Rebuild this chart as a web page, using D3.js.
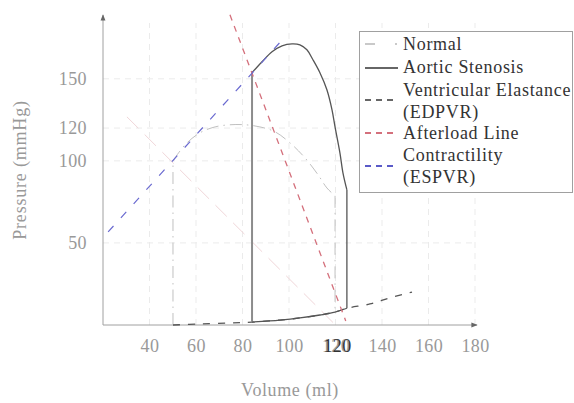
<!DOCTYPE html>
<html>
<head>
<meta charset="utf-8">
<script src="https://cdn.jsdelivr.net/npm/d3@7"></script>
<style>
  html, body { margin: 0; padding: 0; background: #fff; }
  svg { display: block; }
  text { font-family: "Liberation Serif", "DejaVu Serif", serif; }
</style>
</head>
<body>
<svg id="chart" width="574" height="403"></svg>
<script>
// ---------- data ----------
const xTicks = [40, 60, 80, 100, 120, 140, 160, 180];
const yTicks = [50, 100, 120, 150];

// Normal loop (volume ml, pressure mmHg)
const normalTop = [[50.1,100],[55.3,109.8],[61.7,117.1],[68.2,120.7],[74.6,122],[81.1,122],
  [87.5,120.7],[94.0,117.7],[100.4,111],[106.9,101.8],[112.5,91.5],[116.3,83.5],[119.8,78.7]];
const normalLeft = [[50.1,0],[50.1,100]];
const normalRight = [[119.8,78.7],[119.8,7.9]];

// Aortic stenosis loop
const asEjection = [[84.1,153.7],[88.4,160.4],[92.7,166.5],[97.0,170.1],[101.3,171.3],[104.7,170.7],
  [107.7,167.7],[110.3,161.6],[113.3,153.7],[116.3,143.3],[118.5,131.1],[119.8,120.7],
  [121.9,104.9],[123.2,92.7],[124.9,82.3]];
const asLeft = [[84.1,1.8],[84.1,153.7]];
const asRight = [[124.9,82.3],[124.9,10.2]];
const asFilling = [[84.1,1.8],[96.1,3.0],[104.7,4.3],[113.3,6.1],[119.8,7.9],[124.9,10.2]];

// End-diastolic pressure-volume relation
const edpvr = [[50.1,0],[61.7,0.6],[74.6,1.2],[84.1,1.8],[96.1,3.0],[104.7,4.3],[113.3,6.1],
  [119.8,7.9],[124.9,10.2],[134.8,12.8],[143.4,16.5],[152.9,20.1]];

// Afterload lines
const afterload = [[74.6,189],[124.4,2.5]];
const afterloadNormal = [[30.3,126.8],[120,0]];

// ESPVR
const espvr = [[22.2,56.7],[97.6,174.5]];

const legendLabels = [["Normal"],["Aortic Stenosis"],["Ventricular Elastance","(EDPVR)"],
  ["Afterload Line"],["Contractility","(ESPVR)"]];

// ---------- drawing ----------
const svg = d3.select("#chart");
const x = d3.scaleLinear().domain([20, 180]).range([103, 475]);
const y = d3.scaleLinear().domain([0, 184]).range([325, 23]);

// grid
const grid = svg.append("g").attr("stroke", "#ebebeb").attr("stroke-width", 1)
  .attr("stroke-dasharray", "6 5").attr("fill", "none");
xTicks.forEach(t => grid.append("line").attr("x1", x(t)).attr("x2", x(t)).attr("y1", y(0)).attr("y2", y(184)));
yTicks.forEach(t => grid.append("line").attr("x1", x(20)).attr("x2", x(180)).attr("y1", y(t)).attr("y2", y(t)));

// axes (lines + arrows)
const axisColor = "#a0a0a0";
svg.append("defs").append("marker").attr("id", "arr").attr("viewBox", "0 0 10 10")
  .attr("refX", 8).attr("refY", 5).attr("markerWidth", 7).attr("markerHeight", 7)
  .attr("orient", "auto").append("path").attr("d", "M0,1.5 L9,5 L0,8.5 z").attr("fill", "#666");

const xAxis = d3.axisBottom(x).tickValues(xTicks).tickSize(0).tickPadding(14).tickFormat(d3.format("d"));
const gx = svg.append("g").attr("transform", `translate(0,${y(0)})`).call(xAxis);
gx.select(".domain").remove();
gx.selectAll("text").attr("font-size", 18).attr("letter-spacing", 0.4).attr("fill", "#999").attr("font-family", "Liberation Serif");
// darker overlapping 120 label as in the reference
gx.append("text").attr("x", x(120) + 2).attr("y", 14 + 13).attr("text-anchor", "middle")
  .attr("font-size", 18).attr("letter-spacing", 0.4).attr("fill", "#333").attr("font-family", "Liberation Serif").text("120");

const yAxis = d3.axisLeft(y).tickValues(yTicks).tickSize(0).tickPadding(16).tickFormat(d3.format("d"));
const gy = svg.append("g").attr("transform", `translate(${x(20)},0)`).call(yAxis);
gy.select(".domain").remove();
gy.selectAll("text").attr("font-size", 18).attr("letter-spacing", 0.4).attr("fill", "#999").attr("font-family", "Liberation Serif");

svg.append("line").attr("x1", x(20)).attr("x2", x(20)).attr("y1", y(0)).attr("y2", 15)
  .attr("stroke", axisColor).attr("stroke-width", 1).attr("marker-end", "url(#arr)");
svg.append("line").attr("x1", x(20)).attr("x2", 477).attr("y1", y(0)).attr("y2", y(0))
  .attr("stroke", axisColor).attr("stroke-width", 1).attr("marker-end", "url(#arr)");

// axis titles
svg.append("text").attr("x", 290).attr("y", 396).attr("text-anchor", "middle")
  .attr("font-size", 18).attr("letter-spacing", 0.6).attr("fill", "#999").text("Volume (ml)");
svg.append("text").attr("transform", "translate(26,170) rotate(-90)").attr("text-anchor", "middle")
  .attr("font-size", 18).attr("letter-spacing", 0.8).attr("fill", "#999").text("Pressure (mmHg)");

const line = d3.line().x(d => x(d[0])).y(d => y(d[1]));
const curve = d3.line().x(d => x(d[0])).y(d => y(d[1])).curve(d3.curveCatmullRom.alpha(0.5));

// faint normal afterload line
svg.append("path").attr("d", line(afterloadNormal)).attr("fill", "none")
  .attr("stroke", "#f0d6d9").attr("stroke-width", 1).attr("stroke-dasharray", "16 9");

// normal loop
const normalStyle = s => s.attr("fill", "none").attr("stroke", "#c0c0c0").attr("stroke-width", 1)
  .attr("stroke-dasharray", "12 5 1.5 5");
normalStyle(svg.append("path").attr("d", line(normalLeft)));
normalStyle(svg.append("path").attr("d", curve(normalTop)));
normalStyle(svg.append("path").attr("d", line(normalRight)));

// EDPVR
svg.append("path").attr("d", curve(edpvr)).attr("fill", "none")
  .attr("stroke", "#555").attr("stroke-width", 1.3).attr("stroke-dasharray", "7 8");

// aortic stenosis loop
svg.append("path").attr("d", line(asLeft)).attr("fill", "none").attr("stroke", "#8c8c8c").attr("stroke-width", 2);
svg.append("path").attr("d", curve(asEjection)).attr("fill", "none").attr("stroke", "#555").attr("stroke-width", 1.3);
svg.append("path").attr("d", line(asRight)).attr("fill", "none").attr("stroke", "#555").attr("stroke-width", 1.3);
svg.append("path").attr("d", curve(asFilling)).attr("fill", "none").attr("stroke", "#555").attr("stroke-width", 1.3);

// afterload
svg.append("path").attr("d", line(afterload)).attr("fill", "none")
  .attr("stroke", "#d4707c").attr("stroke-width", 1.3).attr("stroke-dasharray", "6 6");

// ESPVR
svg.append("path").attr("d", line(espvr)).attr("fill", "none")
  .attr("stroke", "#6a6ad0").attr("stroke-width", 1.2).attr("stroke-dasharray", "8 11");

// legend
const lg = svg.append("g");
lg.append("rect").attr("x", 359.5).attr("y", 31.5).attr("width", 213).attr("height", 161)
  .attr("fill", "#fff").attr("stroke", "#a0a0a0").attr("stroke-width", 1);
const sampleY = [44, 68, 100, 133, 166];
const baseY = [[50], [73], [96, 118], [139], [161, 183]];
const samples = [
  {stroke: "#b8b8b8", dash: "10 20 2 2", w: 1.6},
  {stroke: "#666", dash: null, w: 2.2},
  {stroke: "#666", dash: "6 5", w: 2},
  {stroke: "#d4707c", dash: "6 5", w: 2},
  {stroke: "#5a5ac8", dash: "6 5", w: 2}
];
legendLabels.forEach((lbl, i) => {
  const s = samples[i];
  const l = lg.append("line").attr("x1", 365).attr("x2", 398).attr("y1", sampleY[i]).attr("y2", sampleY[i])
    .attr("stroke", s.stroke).attr("stroke-width", s.w);
  if (s.dash) l.attr("stroke-dasharray", s.dash);
  lbl.forEach((t, j) => {
    lg.append("text").attr("x", 403).attr("y", baseY[i][j]).attr("font-size", 18)
      .attr("letter-spacing", 0.7).attr("fill", "#333").text(t);
  });
});
</script>
</body>
</html>
